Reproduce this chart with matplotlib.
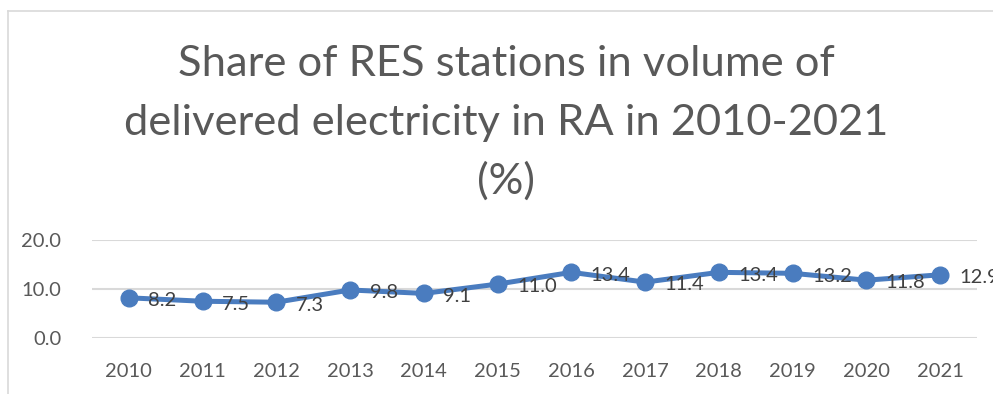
import matplotlib.pyplot as plt
from matplotlib.lines import Line2D

years = ['2010', '2011', '2012', '2013', '2014', '2015',
         '2016', '2017', '2018', '2019', '2020', '2021']
share = [8.2, 7.5, 7.3, 9.8, 9.1, 11.0, 13.4, 11.4, 13.4, 13.2, 11.8, 12.9]
y_ticks = [0.0, 10.0, 20.0]
title_lines = ['Share of RES stations in volume of',
               'delivered electricity in RA in 2010-2021',
               '(%)']

plt.rcParams['font.family'] = ['Lato', 'DejaVu Sans']

W, H = 993, 394
fig = plt.figure(figsize=(W / 100, H / 100), dpi=100)
ax = fig.add_axes([92 / W, (H - 338) / H, 885 / W, 98 / H])

x = list(range(len(years)))
ax.plot(x, share, color='#4A7CBF', lw=3.6, marker='o', markersize=12,
        solid_capstyle='round', zorder=3, clip_on=False)

# data labels to the right of each point
for xi, v in zip(x, share):
    ax.annotate(f'{v:.1f}', (xi, v), xytext=(14, -2), textcoords='offset points',
                ha='left', va='center', fontsize=14.5, color='#404040',
                annotation_clip=False, zorder=4)

ax.set_xlim(-0.5, len(years) - 0.5)
ax.set_ylim(0, 20)
ax.set_xticks(x)
ax.set_xticklabels(years)
ax.set_yticks(y_ticks)
ax.set_yticklabels([f'{t:.1f}' for t in y_ticks])
ax.tick_params(length=0, labelsize=14.5, labelcolor='#595959')
ax.tick_params(axis='x', pad=18)
ax.tick_params(axis='y', pad=22)
ax.grid(axis='y', color='#D9D9D9', lw=1.5)
ax.set_axisbelow(True)
for s in ax.spines.values():
    s.set_visible(False)

# title, one line at a time
for line, base in zip(title_lines, [76, 135, 194]):
    fig.text(0.51, 1 - base / H, line, ha='center', va='baseline',
             fontsize=31.3, color='#595959')

# chart border (only top and left visible in the crop)
fig.add_artist(Line2D([0.008, 1.0], [0.972, 0.972], color='#D9D9D9', lw=1.2,
                      transform=fig.transFigure))
fig.add_artist(Line2D([0.008, 0.008], [0.0, 0.972], color='#D9D9D9', lw=1.2,
                      transform=fig.transFigure))

plt.savefig('out.png', dpi=100)
